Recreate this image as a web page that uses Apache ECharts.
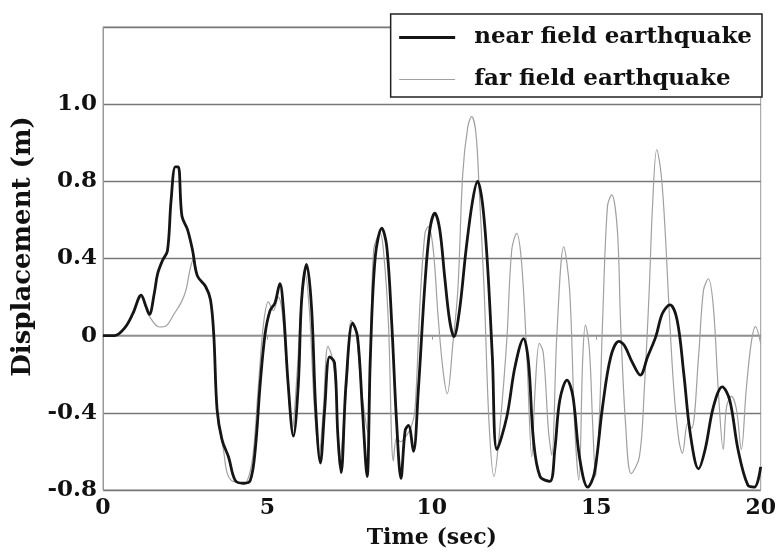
<!DOCTYPE html>
<html>
<head>
<meta charset="utf-8">
<title>Displacement</title>
<script src="https://cdn.jsdelivr.net/npm/echarts@6/dist/echarts.min.js"></script>
<style>
  html, body { margin: 0; padding: 0; background: #fff; }
  #chart { width: 779px; height: 554px; }
</style>
</head>
<body>
<div id="chart"></div>
<script>
// near field earthquake (thick black)
const nearTime = [0, 0.35, 0.66, 0.91, 1.16, 1.31, 1.41, 1.56, 1.66, 1.81, 1.96, 2.07, 2.2, 2.29, 2.4, 2.57, 2.72, 2.87, 3.12, 3.27, 3.37, 3.47, 3.62, 3.82, 4.02, 4.28, 4.48, 4.63, 4.78, 4.93, 5.08, 5.23, 5.38, 5.48, 5.63, 5.79, 5.94, 6.04, 6.19, 6.34, 6.47, 6.61, 6.74, 6.89, 7.04, 7.14, 7.24, 7.39, 7.59, 7.74, 7.89, 8.03, 8.13, 8.28, 8.48, 8.63, 8.78, 8.93, 9.06, 9.19, 9.29, 9.44, 9.59, 9.79, 9.94, 10.09, 10.24, 10.39, 10.54, 10.67, 10.84, 11.04, 11.24, 11.39, 11.54, 11.69, 11.84, 11.98, 12.28, 12.53, 12.79, 12.94, 13.09, 13.29, 13.59, 13.74, 13.89, 14.11, 14.29, 14.49, 14.74, 14.94, 15.19, 15.44, 15.69, 15.85, 16.1, 16.34, 16.56, 16.81, 17.01, 17.24, 17.46, 17.66, 17.86, 18.11, 18.31, 18.56, 18.83, 19.06, 19.31, 19.61, 19.81, 20]
const nearDisp = [0, 0, 0.04, 0.115, 0.21, 0.15, 0.11, 0.22, 0.32, 0.39, 0.44, 0.7, 0.875, 0.875, 0.62, 0.55, 0.445, 0.31, 0.255, 0.185, 0, -0.385, -0.54, -0.63, -0.75, -0.765, -0.75, -0.59, -0.25, 0.01, 0.13, 0.17, 0.27, 0.15, -0.25, -0.52, -0.25, 0.185, 0.37, 0.15, -0.385, -0.66, -0.385, -0.11, -0.14, -0.51, -0.71, -0.25, 0.065, -0.005, -0.385, -0.73, -0.11, 0.41, 0.557, 0.46, 0.065, -0.455, -0.74, -0.49, -0.465, -0.6, -0.28, 0.27, 0.55, 0.635, 0.55, 0.305, 0.08, -0.005, 0.13, 0.445, 0.7, 0.8, 0.685, 0.375, -0.11, -0.59, -0.42, -0.16, -0.015, -0.14, -0.54, -0.73, -0.755, -0.59, -0.335, -0.23, -0.315, -0.63, -0.785, -0.715, -0.37, -0.11, -0.03, -0.05, -0.14, -0.205, -0.11, -0.005, 0.115, 0.16, 0.08, -0.195, -0.51, -0.69, -0.59, -0.37, -0.265, -0.335, -0.59, -0.775, -0.785, -0.68]

// far field earthquake (thin grey)
const farTime = [0, 0.35, 0.66, 0.91, 1.16, 1.31, 1.41, 1.71, 1.91, 2.17, 2.37, 2.52, 2.67, 2.77, 2.87, 3.12, 3.27, 3.37, 3.47, 3.67, 3.77, 3.9, 4.05, 4.28, 4.45, 4.58, 4.73, 4.88, 5.03, 5.18, 5.33, 5.45, 5.6, 5.75, 5.9, 6.04, 6.14, 6.28, 6.42, 6.57, 6.7, 6.84, 6.98, 7.09, 7.19, 7.32, 7.44, 7.54, 7.69, 7.84, 7.95, 8.05, 8.13, 8.23, 8.43, 8.55, 8.68, 8.83, 8.93, 9.05, 9.18, 9.38, 9.49, 9.64, 9.79, 9.89, 10.04, 10.19, 10.34, 10.47, 10.64, 10.79, 10.94, 11.09, 11.21, 11.34, 11.44, 11.59, 11.74, 11.89, 12.08, 12.28, 12.43, 12.58, 12.73, 12.89, 13.04, 13.14, 13.27, 13.39, 13.55, 13.65, 13.8, 14.01, 14.19, 14.34, 14.47, 14.59, 14.67, 14.79, 14.89, 14.98, 15.1, 15.19, 15.34, 15.47, 15.64, 15.74, 15.89, 16.06, 16.31, 16.46, 16.61, 16.71, 16.84, 16.98, 17.11, 17.21, 17.36, 17.51, 17.62, 17.78, 17.9, 18.11, 18.26, 18.41, 18.56, 18.71, 18.86, 18.96, 19.11, 19.26, 19.41, 19.56, 19.71, 19.84, 20]
const farDisp = [0, 0, 0.04, 0.115, 0.2, 0.14, 0.1, 0.045, 0.05, 0.115, 0.17, 0.235, 0.36, 0.4, 0.31, 0.255, 0.185, 0, -0.4, -0.6, -0.71, -0.75, -0.76, -0.77, -0.72, -0.59, -0.25, 0.06, 0.175, 0.13, 0.2, 0.12, -0.2, -0.49, -0.2, 0.21, 0.33, 0.12, -0.35, -0.62, -0.38, -0.055, -0.12, -0.3, -0.68, -0.45, -0.2, 0.08, 0.03, -0.25, -0.4, -0.5, -0.2, 0.445, 0.53, 0.4, 0.065, -0.65, -0.53, -0.55, -0.53, -0.47, -0.38, 0.17, 0.53, 0.565, 0.45, 0.1, -0.18, -0.3, -0.04, 0.235, 0.84, 1.08, 1.135, 1.05, 0.755, 0.235, -0.455, -0.73, -0.455, -0.02, 0.445, 0.53, 0.375, -0.11, -0.63, -0.28, -0.04, -0.09, -0.5, -0.62, 0, 0.46, 0.235, -0.455, -0.75, -0.11, 0.055, -0.07, -0.455, -0.73, -0.4, 0.065, 0.67, 0.73, 0.55, 0.065, -0.455, -0.715, -0.63, -0.28, 0.235, 0.67, 0.965, 0.825, 0.495, 0.15, -0.28, -0.54, -0.61, -0.455, -0.48, -0.11, 0.235, 0.295, 0.15, -0.28, -0.59, -0.37, -0.315, -0.38, -0.59, -0.28, -0.04, 0.047, -0.04]

// tick labels as printed on the original figure (from -0.8 upward, step 0.4)
const yTickLabels = ['-0.8', '-0.4', '0', '0.4', '0.8', '1.0', '']
const seriesNames = ['near field earthquake', 'far field earthquake']

const serif = 'DejaVu Serif'
const pairs = (xs, ys) => xs.map((x, i) => [x, ys[i]])

const chart = echarts.init(document.getElementById('chart'))

const option = {
  animation: false,
  backgroundColor: '#fff',
  grid: {
    left: 103,
    right: 11,
    top: 27,
    bottom: 64,
    show: true,
    borderColor: '#999',
    borderWidth: 1
  },
  legend: {
    orient: 'vertical',
    right: 17,
    top: 14,
    padding: [12, 10, 6, 7],
    itemWidth: 56,
    itemHeight: 12,
    itemGap: 19,
    backgroundColor: '#fff',
    borderColor: '#222',
    borderWidth: 1.5,
    borderRadius: 0,
    selectedMode: false,
    // hide the marker dot, keep only the line sample
    itemStyle: { opacity: 0 },
    textStyle: {
      fontFamily: serif,
      fontWeight: 'bold',
      fontSize: 23,
      color: '#111',
      padding: [0, 0, 0, 14]
    },
    data: [
      { name: seriesNames[0], lineStyle: { width: 3 } },
      { name: seriesNames[1], lineStyle: { width: 1 } }
    ]
  },
  xAxis: {
    type: 'value',
    min: 0,
    max: 20,
    interval: 5,
    name: 'Time (sec)',
    nameLocation: 'middle',
    nameGap: 37,
    nameTextStyle: {
      fontFamily: serif,
      fontWeight: 'bold',
      fontSize: 22,
      color: '#111'
    },
    axisLine: { lineStyle: { color: '#999', width: 1.5 } },
    axisTick: { show: true, length: 4, lineStyle: { color: '#999' } },
    axisLabel: {
      margin: 7,
      fontFamily: serif,
      fontWeight: 'bold',
      fontSize: 22,
      color: '#111'
    },
    splitLine: { show: false }
  },
  yAxis: {
    type: 'value',
    min: -0.8,
    max: 1.6,
    interval: 0.4,
    name: 'Displacement (m)',
    nameLocation: 'middle',
    nameGap: 63,
    nameTextStyle: {
      fontFamily: serif,
      fontWeight: 'bold',
      fontSize: 26,
      color: '#111',
      padding: [0, 0, 0, 24]
    },
    axisLine: { show: true, lineStyle: { color: '#999', width: 1 } },
    axisTick: { show: false },
    axisLabel: {
      margin: 6,
      fontFamily: serif,
      fontWeight: 'bold',
      fontSize: 23,
      color: '#111',
      formatter: (v) => yTickLabels[Math.round((v + 0.8) / 0.4)]
    },
    splitLine: { show: true, lineStyle: { color: '#777', width: 1.3 } }
  },
  series: [
    {
      name: seriesNames[1],
      type: 'line',
      symbol: 'none',
      smooth: 0.35,
      z: 2,
      lineStyle: { color: '#a0a0a0', width: 1.2 },
      itemStyle: { color: '#a0a0a0' },
      data: pairs(farTime, farDisp)
    },
    {
      name: seriesNames[0],
      type: 'line',
      symbol: 'none',
      smooth: 0.35,
      z: 3,
      lineStyle: { color: '#151515', width: 2.8 },
      itemStyle: { color: '#151515' },
      data: pairs(nearTime, nearDisp)
    }
  ]
}

chart.setOption(option)
</script>
</body>
</html>
